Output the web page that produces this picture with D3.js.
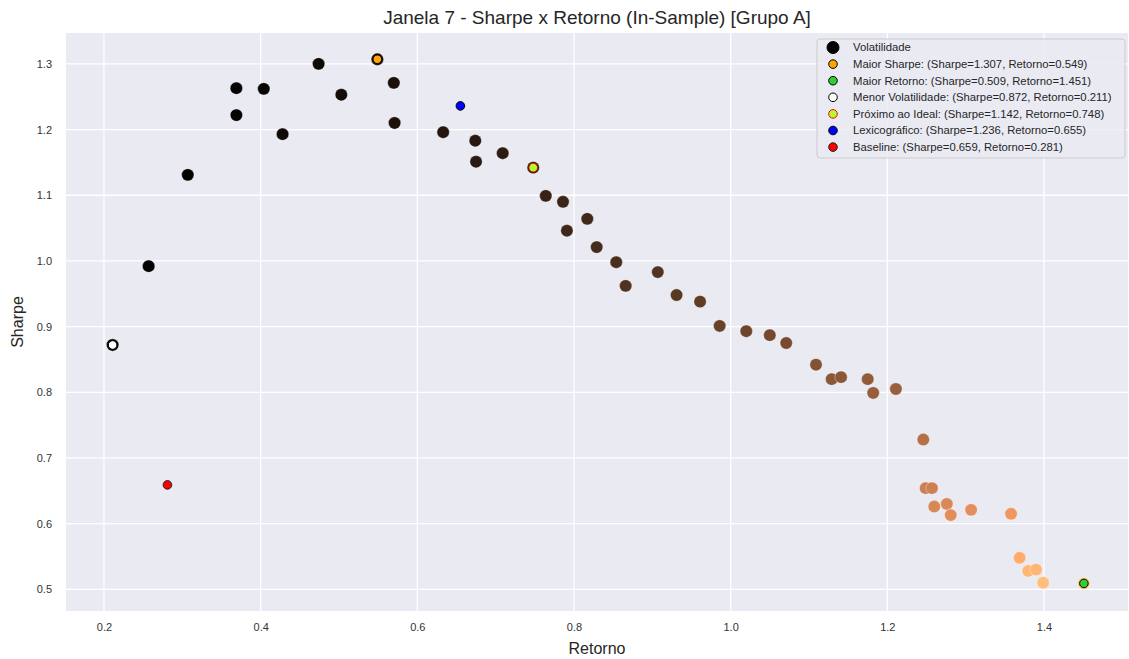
<!DOCTYPE html>
<html>
<head>
<meta charset="utf-8">
<script src="https://cdn.jsdelivr.net/npm/d3@7"></script>
<style>
  body { margin: 0; background: #fff; }
  svg { display: block; font-family: "Liberation Sans", Arial, sans-serif; }
</style>
</head>
<body>
<div id="chart"></div>
<script>
// pontos da fronteira (Retorno, Sharpe, Volatilidade)
const retorno = [0.211, 0.257, 0.307, 0.369, 0.369, 0.404, 0.428, 0.474, 0.503, 0.549,
  0.570, 0.571, 0.633, 0.674, 0.675, 0.709, 0.748, 0.764, 0.786, 0.791,
  0.817, 0.829, 0.854, 0.866, 0.907, 0.931, 0.961, 0.986, 1.020, 1.050,
  1.071, 1.109, 1.129, 1.141, 1.175, 1.182, 1.211, 1.246, 1.249, 1.257,
  1.260, 1.276, 1.281, 1.307, 1.358, 1.369, 1.380, 1.390, 1.399, 1.451];
const sharpe = [0.872, 0.992, 1.131, 1.263, 1.222, 1.262, 1.193, 1.300, 1.253, 1.307,
  1.271, 1.210, 1.196, 1.183, 1.151, 1.164, 1.142, 1.099, 1.090, 1.046,
  1.064, 1.021, 0.998, 0.962, 0.983, 0.948, 0.938, 0.901, 0.893, 0.887,
  0.875, 0.842, 0.820, 0.823, 0.820, 0.799, 0.805, 0.728, 0.654, 0.654,
  0.626, 0.630, 0.613, 0.621, 0.615, 0.548, 0.528, 0.530, 0.510, 0.509];
const volatilidade = [0.242, 0.259, 0.271, 0.292, 0.302, 0.320, 0.359, 0.365, 0.401, 0.420,
  0.448, 0.472, 0.529, 0.570, 0.586, 0.609, 0.655, 0.695, 0.721, 0.756,
  0.768, 0.812, 0.856, 0.900, 0.923, 0.982, 1.025, 1.094, 1.142, 1.184,
  1.224, 1.317, 1.377, 1.386, 1.433, 1.479, 1.504, 1.712, 1.910, 1.922,
  2.013, 2.025, 2.090, 2.105, 2.208, 2.498, 2.614, 2.623, 2.743, 2.851];

// pontos destacados
const destaqueNomes = ["Maior Sharpe", "Maior Retorno", "Menor Volatilidade", "Próximo ao Ideal", "Lexicográfico", "Baseline"];
const destaqueSharpe = [1.307, 0.509, 0.872, 1.142, 1.236, 0.659];
const destaqueRetorno = [0.549, 1.451, 0.211, 0.748, 0.655, 0.281];
const destaqueFill = ["#ffa500", "#32cd32", "#ffffff", "#adff2f", "#0000ff", "#ff0000"];
const destaqueStroke = ["#000", "#000", "#000", "#ff0000", "#000", "#222"];

const xTicks = [0.2, 0.4, 0.6, 0.8, 1.0, 1.2, 1.4];
const yTicks = [0.5, 0.6, 0.7, 0.8, 0.9, 1.0, 1.1, 1.2, 1.3];

const width = 1129, height = 659;
const margin = {top: 33, right: 1, bottom: 48, left: 66};

const svg = d3.select("#chart").append("svg")
    .attr("width", width)
    .attr("height", height);

const x = d3.scaleLinear()
    .domain([0.1515, 1.5073])
    .range([margin.left, width - margin.right]);
const y = d3.scaleLinear()
    .domain([0.467, 1.347])
    .range([height - margin.bottom, margin.top]);

// copper colormap
const vExt = d3.extent(volatilidade);
function copper(v) {
  let t = (v - vExt[0]) / (vExt[1] - vExt[0]);
  let r = Math.min(1, 1.25 * t), g = 0.7812 * t, b = 0.4975 * t;
  return d3.rgb(r * 255, g * 255, b * 255).toString();
}

svg.append("rect")
    .attr("x", margin.left).attr("y", margin.top)
    .attr("width", width - margin.left - margin.right)
    .attr("height", height - margin.top - margin.bottom)
    .attr("fill", "#eaeaf2");

// grade
svg.append("g")
  .selectAll("line")
  .data(xTicks)
  .join("line")
    .attr("x1", d => x(d)).attr("x2", d => x(d))
    .attr("y1", margin.top).attr("y2", height - margin.bottom)
    .attr("stroke", "#fff").attr("stroke-width", 1.3);
svg.append("g")
  .selectAll("line")
  .data(yTicks)
  .join("line")
    .attr("y1", d => y(d)).attr("y2", d => y(d))
    .attr("x1", margin.left).attr("x2", width - margin.right)
    .attr("stroke", "#fff").attr("stroke-width", 1.3);

// eixos
const xAxis = svg.append("g")
    .attr("transform", `translate(0,${height - margin.bottom})`)
    .call(d3.axisBottom(x).tickValues(xTicks).tickFormat(d3.format(".1f")).tickSize(0).tickPadding(12));
const yAxis = svg.append("g")
    .attr("transform", `translate(${margin.left},0)`)
    .call(d3.axisLeft(y).tickValues(yTicks).tickFormat(d3.format(".1f")).tickSize(0).tickPadding(14));
[xAxis, yAxis].forEach(a => {
  a.select(".domain").remove();
  a.selectAll("text").attr("font-size", 11).attr("fill", "#333")
    .attr("font-family", "'Liberation Sans', Arial, sans-serif");
});

// pontos
const idx = d3.range(retorno.length);
svg.append("g")
  .selectAll("circle")
  .data(idx)
  .join("circle")
    .attr("cx", i => x(retorno[i]))
    .attr("cy", i => y(sharpe[i]))
    .attr("r", 6.2)
    .attr("fill", i => copper(volatilidade[i]))
    .attr("stroke", "#fff")
    .attr("stroke-opacity", 0.45)
    .attr("stroke-width", 0.8);

const dIdx = d3.range(destaqueNomes.length);
svg.append("g")
  .selectAll("circle")
  .data(dIdx)
  .join("circle")
    .attr("cx", i => x(destaqueRetorno[i]))
    .attr("cy", i => y(destaqueSharpe[i]))
    .attr("r", 4.3)
    .attr("fill", i => destaqueFill[i])
    .attr("stroke", i => destaqueStroke[i])
    .attr("stroke-width", 1);

// titulo e rótulos
svg.append("text")
    .attr("x", (margin.left + width - margin.right) / 2)
    .attr("y", 24)
    .attr("text-anchor", "middle")
    .attr("font-size", 19)
    .attr("fill", "#262626")
    .text("Janela 7 - Sharpe x Retorno (In-Sample) [Grupo A]");
svg.append("text")
    .attr("x", (margin.left + width - margin.right) / 2)
    .attr("y", 654)
    .attr("text-anchor", "middle")
    .attr("font-size", 16)
    .attr("fill", "#262626")
    .text("Retorno");
svg.append("text")
    .attr("transform", `translate(23,${(margin.top + height - margin.bottom) / 2}) rotate(-90)`)
    .attr("text-anchor", "middle")
    .attr("font-size", 16)
    .attr("fill", "#262626")
    .text("Sharpe");

// legenda
const fmt = d3.format(".3f");
const legendItems = [{label: "Volatilidade", fill: "#000", stroke: "#000", r: 6}]
  .concat(dIdx.map(i => ({
    label: `${destaqueNomes[i]}: (Sharpe=${fmt(destaqueSharpe[i])}, Retorno=${fmt(destaqueRetorno[i])})`,
    fill: destaqueFill[i], stroke: destaqueStroke[i], r: 4.3
  })));

const legend = svg.append("g").attr("transform", "translate(817,39)");
legend.append("rect")
    .attr("width", 308).attr("height", 119)
    .attr("rx", 3)
    .attr("fill", "#eaeaf2").attr("fill-opacity", 0.8)
    .attr("stroke", "#cccccc").attr("stroke-width", 1);
const li = legend.selectAll("g")
  .data(legendItems)
  .join("g")
    .attr("transform", (d, i) => `translate(0,${8.5 + i * 16.6})`);
li.append("circle")
    .attr("cx", 16).attr("cy", 0)
    .attr("r", d => d.r)
    .attr("fill", d => d.fill)
    .attr("stroke", d => d.stroke)
    .attr("stroke-width", 1);
li.append("text")
    .attr("x", 36).attr("dy", "0.35em")
    .attr("font-size", 11.3)
    .attr("fill", "#262626")
    .text(d => d.label);
</script>
</body>
</html>
